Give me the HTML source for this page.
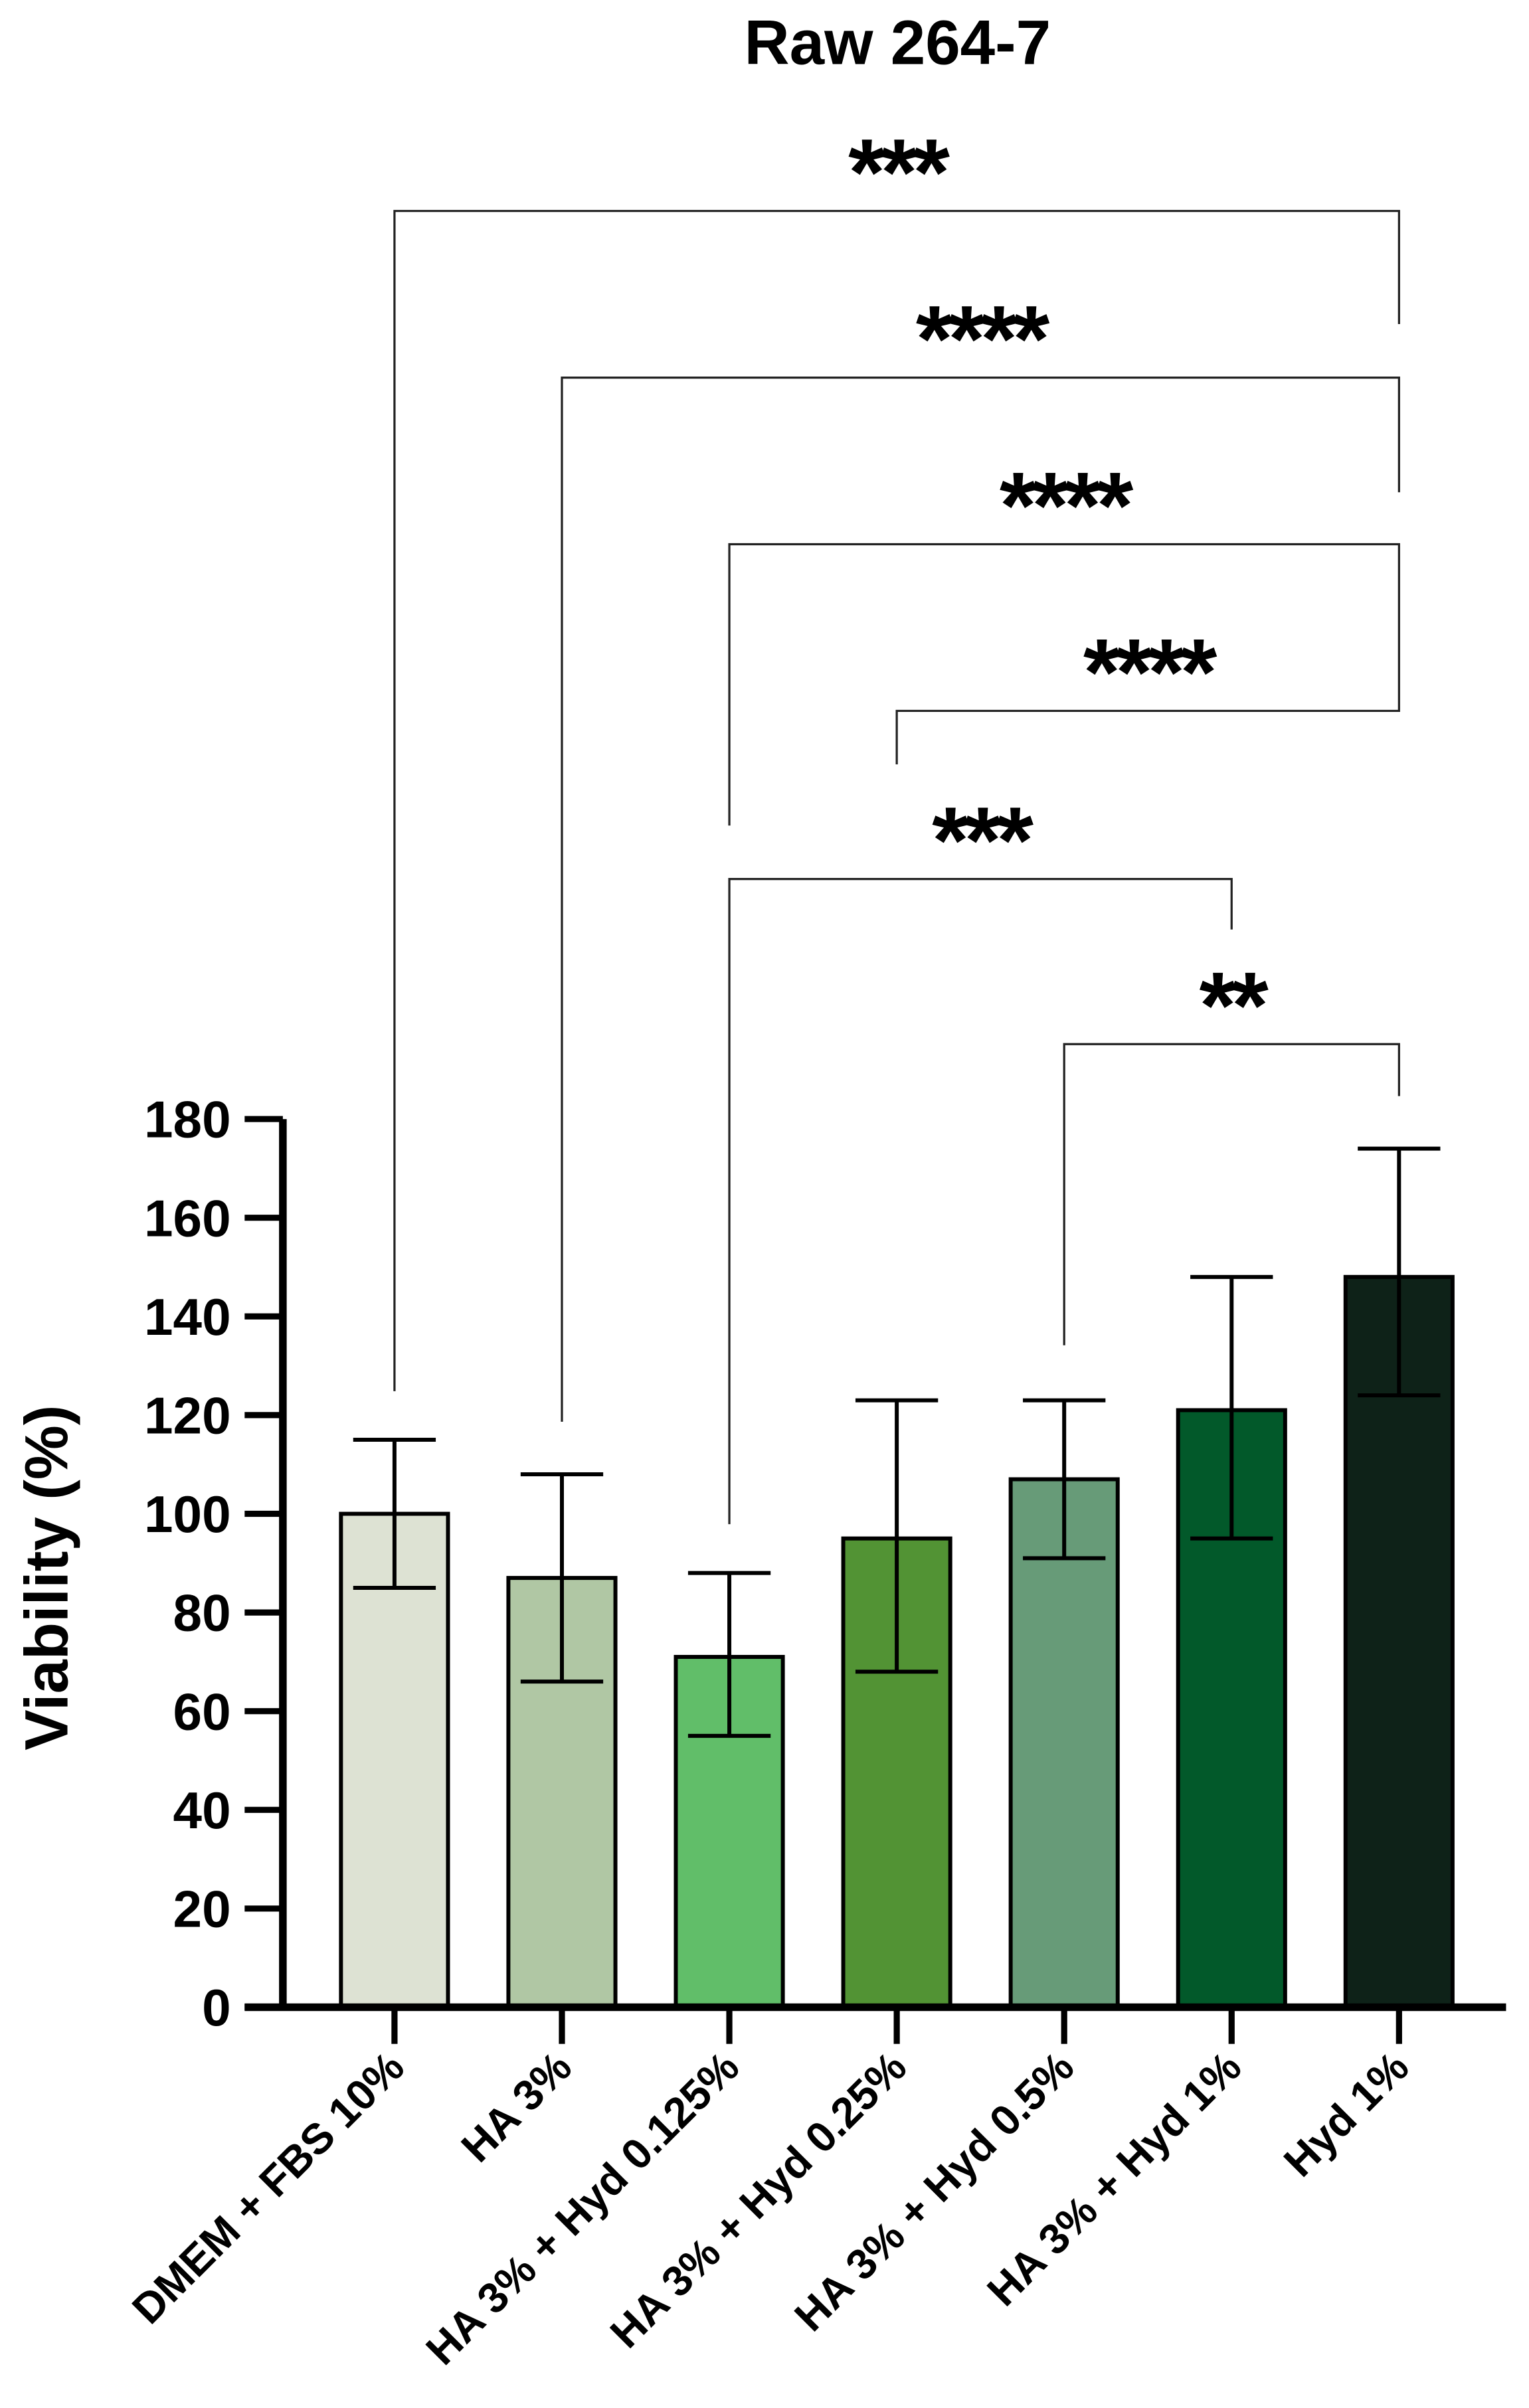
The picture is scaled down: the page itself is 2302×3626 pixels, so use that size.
<!DOCTYPE html>
<html><head><meta charset="utf-8"><style>
html,body{margin:0;padding:0;background:#fff;}
svg{display:block;}
text{font-family:"Liberation Sans",Arial,sans-serif;font-weight:bold;fill:#000;}
</style></head><body>
<svg id="chart" width="2302" height="3626" viewBox="0 0 1000 1575.15" xmlns="http://www.w3.org/2000/svg">
<text x="587" y="42" font-size="41" text-anchor="middle">Raw 264-7</text>
<text transform="translate(44,1032) rotate(-90)" font-size="40" text-anchor="middle">Viability (%)</text>
<g id="plot"></g>
</svg>
<script>
const categories = ["DMEM + FBS 10%","HA 3%","HA 3% + Hyd 0.125%","HA 3% + Hyd 0.25%","HA 3% + Hyd 0.5%","HA 3% + Hyd 1%","Hyd 1%"];
const means = [100, 87, 71, 95, 107, 121, 148];
const errUpper = [115, 108, 88, 123, 123, 148, 174];
const errLower = [85, 66, 55, 68, 91, 95, 124];
const colors = ["#dde2d3","#b0c7a4","#61be69","#529334","#679b78","#02592a","#0e2218"];
const yTicks = [0,20,40,60,80,100,120,140,160,180];
const compFrom = [0, 1, 2, 3, 2, 4];
const compTo = [6, 6, 6, 6, 5, 6];
const compLabels = ["***","****","****","****","***","**"];
const compLevel = [138, 247, 356, 465, 575, 683];
const compLeftEnd = [910, 930, 540, 500, 997, 880];
const compRightEnd = [212, 322, 432, 432, 608, 717];

const NS = "http://www.w3.org/2000/svg";
const g = document.getElementById('plot');
const y0 = 1313, y180 = 732;
function yS(v){ return y0 - (v/180)*(y0-y180); }
function xS(i){ return 258 + i*109.5; }
function mk(tag, attrs, parent){
  const e = document.createElementNS(NS, tag);
  for (const k in attrs) e.setAttribute(k, attrs[k]);
  (parent||g).appendChild(e);
  return e;
}
const bw = 70;
categories.forEach((c,i)=>{
  const x = xS(i);
  const r = mk('rect',{x:x-bw/2,y:yS(means[i]),width:bw,height:y0-yS(means[i]),fill:colors[i],stroke:'#000','stroke-width':2.6});
  
  
  const eb = mk('path',{d:`M${x},${yS(errUpper[i])}V${yS(errLower[i])}M${x-27},${yS(errUpper[i])}H${x+27}M${x-27},${yS(errLower[i])}H${x+27}`,stroke:'#000','stroke-width':2.6,fill:'none'});
  
  
  const t = mk('line',{x1:x,y1:y0,x2:x,y2:1337,stroke:'#000','stroke-width':4});
  
  
  const lb = mk('text',{transform:`translate(${x+8},${1354}) rotate(-45)`,'font-size':28,'text-anchor':'end'});
  lb.textContent = c;
  
  
});
const ya = mk('path',{d:`M185,${y180}V${y0+2}`,stroke:'#000','stroke-width':5,fill:'none'});


const xa = mk('line',{x1:160,y1:y0,x2:985,y2:y0,stroke:'#000','stroke-width':5});


yTicks.forEach(v=>{
  const tk = mk('line',{x1:160,y1:yS(v),x2:185,y2:yS(v),stroke:'#000','stroke-width':4});
  
  
  const tl = mk('text',{x:151,y:yS(v)+12,'font-size':34,'text-anchor':'end'});
  tl.textContent = v;
  
  
});
compFrom.forEach((f,k)=>{
  const x1 = xS(f), x2 = xS(compTo[k]), yl = compLevel[k];
  const br = mk('path',{d:`M${x1},${compLeftEnd[k]}V${yl}H${x2}V${compRightEnd[k]}`,stroke:'#222','stroke-width':1.4,fill:'none'});
  
  
  const st = mk('text',{x:(x1+x2)/2,y:yl-4,'font-size':62,'text-anchor':'middle','letter-spacing':'-3'});
  st.textContent = compLabels[k];
  
  
});
</script>
</body></html>
